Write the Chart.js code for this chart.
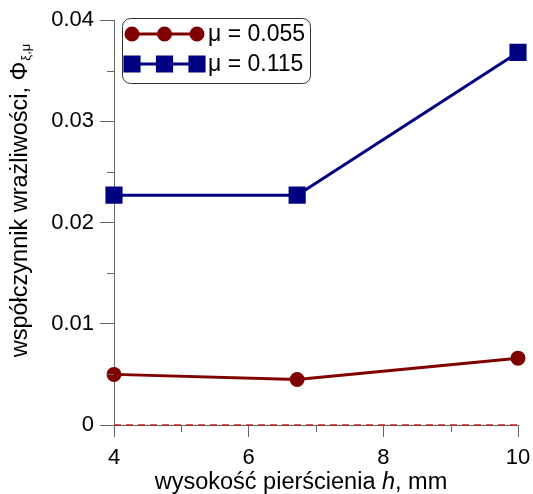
<!DOCTYPE html>
<html>
<head>
<meta charset="utf-8">
<script src="https://cdn.jsdelivr.net/npm/chart.js@4.4.1/dist/chart.umd.min.js"></script>
<style>
  html, body { margin: 0; padding: 0; background: #fff; }
  #wrap { width: 533px; height: 494px; position: relative; }
</style>
</head>
<body>
<div id="wrap"><canvas id="chart"></canvas></div>
<script>
// wysokość pierścienia h [mm]
var hValues = [4, 6.72, 10];
var phiMu055 = [0.0050, 0.0045, 0.0066];
var phiMu115 = [0.0227, 0.0227, 0.0368];
var seriesLabels = ['\u03bc = 0.055', '\u03bc = 0.115'];
var xTicks = [4, 6, 8, 10];
var yTicks = [0, 0.01, 0.02, 0.03, 0.04];
var xMinor = [5, 7, 9];
var yMinor = [0.005, 0.015, 0.025, 0.035];
var zeroLine = [0, 0];

var FONT = 'Arial, "Liberation Sans", sans-serif';
var AXIS = '#666';

function toPoints(xs, ys) {
    return xs.map(function(x, i) { return {x: x, y: ys[i]}; });
}

var decorations = {
    id: 'decorations',
    afterDraw: function(chart) {
        var ctx = chart.ctx, xs = chart.scales.x, ys = chart.scales.y;
        var area = chart.chartArea;
        ctx.save();

        // minor ticks
        ctx.strokeStyle = AXIS;
        ctx.lineWidth = 1;
        ctx.beginPath();
        yMinor.forEach(function(v) {
            var p = Math.round(ys.getPixelForValue(v)) + 0.5;
            ctx.moveTo(area.left - 7, p);
            ctx.lineTo(area.left, p);
        });
        xMinor.forEach(function(v) {
            var p = Math.round(xs.getPixelForValue(v)) + 0.5;
            ctx.moveTo(p, area.bottom);
            ctx.lineTo(p, area.bottom + 7);
        });
        ctx.stroke();

        // x title: wysokość pierścienia h, mm
        ctx.fillStyle = '#000';
        ctx.textBaseline = 'alphabetic';
        var parts = [
            ['wysoko\u015b\u0107 pier\u015bcienia ', '23.5px ' + FONT],
            ['h', 'italic 23.5px ' + FONT],
            [', mm', '23.5px ' + FONT]
        ];
        var total = 0;
        parts.forEach(function(p) { ctx.font = p[1]; total += ctx.measureText(p[0]).width; });
        var cx = 301 - total / 2;
        ctx.textAlign = 'left';
        parts.forEach(function(p) {
            ctx.font = p[1];
            ctx.fillText(p[0], cx, 489);
            cx += ctx.measureText(p[0]).width;
        });

        // y title: współczynnik wrażliwości, Φξ,μ
        ctx.translate(27, 201);
        ctx.rotate(-Math.PI / 2);
        var main = 'wsp\u00f3\u0142czynnik wra\u017cliwo\u015bci, \u03a6';
        var sub = '\u03be,\u03bc';
        ctx.font = '23.5px ' + FONT;
        var wMain = ctx.measureText(main).width;
        ctx.font = '13px ' + FONT;
        var wSub = ctx.measureText(sub).width;
        var sx = -(wMain + wSub) / 2;
        ctx.font = '23.5px ' + FONT;
        ctx.fillText(main, sx, 0);
        ctx.font = '13px ' + FONT;
        ctx.fillText(sub, sx + wMain + 1, 3);
        ctx.setTransform(1, 0, 0, 1, 0, 0);

        // legend box
        var bx = 122, by = 18, bw = 188, bh = 65;
        ctx.beginPath();
        ctx.roundRect(bx + 0.5, by + 0.5, bw, bh, 8);
        ctx.fillStyle = '#fff';
        ctx.fill();
        ctx.strokeStyle = '#333';
        ctx.lineWidth = 1;
        ctx.stroke();

        chart.data.datasets.slice(0, 2).forEach(function(ds, i) {
            var rowY = 34 + i * 30;
            ctx.strokeStyle = ds.borderColor;
            ctx.lineWidth = ds.borderWidth;
            ctx.beginPath();
            ctx.moveTo(132, rowY);
            ctx.lineTo(197, rowY);
            ctx.stroke();
            [132, 164.5, 197].forEach(function(mx) {
                ctx.fillStyle = ds.pointBackgroundColor;
                ctx.strokeStyle = ds.pointBorderColor;
                Chart.helpers.drawPoint(ctx, {
                    pointStyle: ds.pointStyle,
                    radius: ds.pointRadius,
                    rotation: 0,
                    borderWidth: 1
                }, mx, rowY);
            });
            ctx.fillStyle = '#000';
            ctx.font = '23px ' + FONT;
            ctx.textAlign = 'left';
            ctx.textBaseline = 'middle';
            ctx.fillText(ds.label, 208, rowY + 1);
        });
        ctx.restore();
    }
};

var ctx = document.getElementById('chart').getContext('2d');
var myChart = new Chart(ctx, {
    type: 'line',
    data: {
        datasets: [{
            label: seriesLabels[0],
            data: toPoints(hValues, phiMu055),
            borderColor: '#800000',
            backgroundColor: '#800000',
            pointBackgroundColor: '#800000',
            pointBorderColor: '#800000',
            borderWidth: 3,
            pointStyle: 'circle',
            pointRadius: 6,
            pointHoverRadius: 6,
            clip: false,
            order: 1
        }, {
            label: seriesLabels[1],
            data: toPoints(hValues, phiMu115),
            borderColor: '#000080',
            backgroundColor: '#000080',
            pointBackgroundColor: '#000080',
            pointBorderColor: '#000080',
            borderWidth: 3,
            pointStyle: 'rect',
            pointRadius: 10,
            pointHoverRadius: 10,
            clip: false,
            order: 1
        }, {
            label: 'zero',
            data: toPoints([hValues[0], hValues[hValues.length - 1]], zeroLine),
            borderColor: '#c02020',
            borderWidth: 1.5,
            borderDash: [7, 5],
            pointRadius: 0,
            clip: false,
            order: 2
        }]
    },
    options: {
        responsive: true,
        maintainAspectRatio: false,
        animation: false,
        layout: {
            padding: {top: 20, right: 15, left: 0, bottom: 0}
        },
        plugins: {
            legend: { display: false },
            title: { display: false },
            tooltip: { enabled: false }
        },
        scales: {
            x: {
                type: 'linear',
                min: 4,
                max: 10,
                afterBuildTicks: function(scale) {
                    scale.ticks = xTicks.map(function(v) { return {value: v}; });
                },
                afterFit: function(scale) {
                    scale.height = 69;
                    scale.paddingLeft = 0;
                    scale.paddingRight = 0;
                },
                ticks: {
                    color: '#000',
                    font: { family: FONT, size: 22 },
                    padding: 8,
                    maxRotation: 0
                },
                grid: {
                    drawOnChartArea: false,
                    tickLength: 12,
                    color: AXIS
                },
                border: { color: AXIS, width: 1 }
            },
            y: {
                min: 0,
                max: 0.04,
                afterBuildTicks: function(scale) {
                    scale.ticks = yTicks.map(function(v) { return {value: v}; });
                },
                afterFit: function(scale) { scale.width = 114; },
                ticks: {
                    color: '#000',
                    font: { family: FONT, size: 22 },
                    padding: 6,
                    callback: function(v) { return v === 0 ? '0' : v.toFixed(2); }
                },
                grid: {
                    drawOnChartArea: false,
                    tickLength: 14,
                    color: AXIS
                },
                border: { color: AXIS, width: 1 }
            }
        }
    },
    plugins: [decorations]
});
</script>
</body>
</html>
